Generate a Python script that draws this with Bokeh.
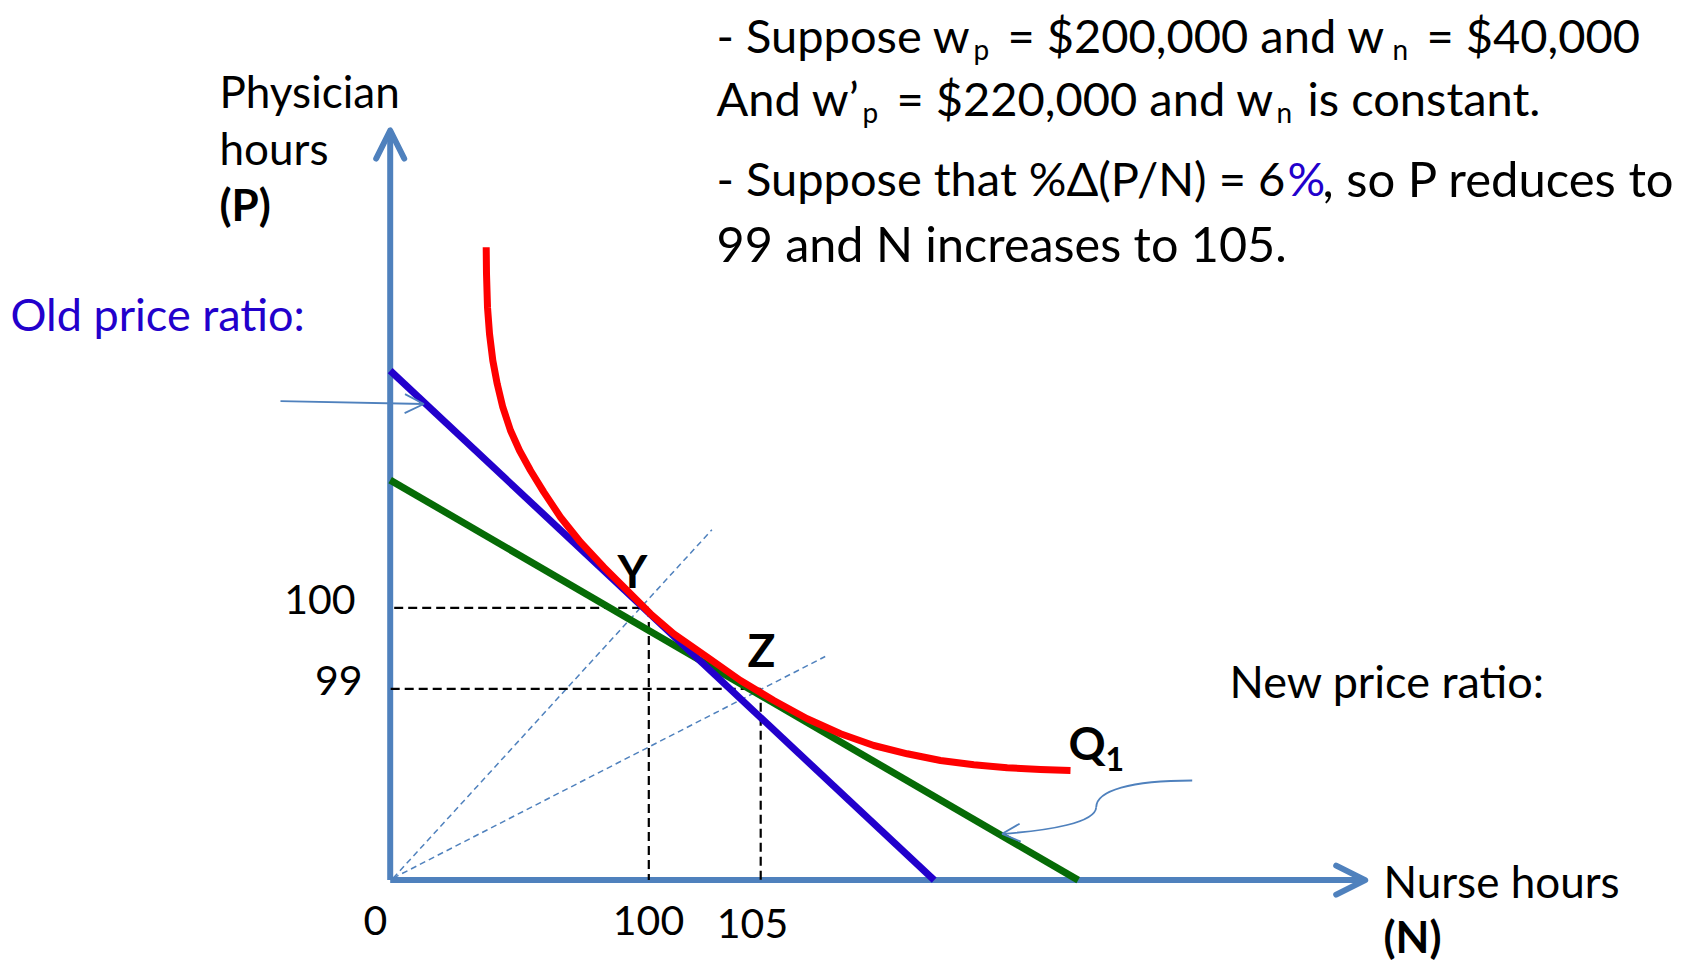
from bokeh.plotting import figure
from bokeh.models import Range1d, Arrow, OpenHead
from bokeh.core.properties import value
from bokeh.embed import file_html
from bokeh.resources import INLINE

# ---------------- data (schematic diagram units, origin at the axes corner) -------------
isoquant_N = [96.0, 96.3, 97.3, 99.3, 102.6, 107.0, 112.6, 120.3, 129.3, 140.3,
              153.6, 170.3, 190.3, 213.6, 237.0, 260.3, 283.6, 317.0, 350.3, 383.6,
              417.0, 450.3, 483.6, 517.0, 550.3, 583.6, 617.0, 650.3, 680.3]
isoquant_P = [632.9, 606.3, 572.9, 546.3, 519.6, 496.3, 472.9, 449.6, 429.6, 409.6,
              388.0, 362.9, 337.9, 312.9, 289.6, 266.3, 246.3, 222.9, 199.6, 179.6,
              161.3, 146.3, 134.6, 126.3, 119.6, 115.3, 112.3, 110.6, 109.6]

old_budget_N = [0, 544.0]
old_budget_P = [509.5, 0]
new_budget_N = [0, 688.0]
new_budget_P = [400.0, 0]

point_Y = [258.6, 272.2]      # N, P of point Y (N=100, P=100)
point_Z = [370.5, 191.3]      # N, P of point Z (N=105, P=99)
ray_Y_end = [321.7, 350.3]
ray_Z_end = [435.0, 223.6]

P_tick_pos = [272.2, 191.3]
P_tick_labels = ["100", "99"]
N_tick_pos = [0.0, 258.6, 370.5]
N_tick_labels = ["0", "100", "105"]

N_axis_max = 975.0
P_axis_max = 749.6

# ---------------- page geometry --------------------------------------------------------
W, H = 1700, 960
OX, OY = 389.7, 879.6          # page position of the origin
TSHIFT = 15                    # text baseline correction


def pg(x, y):
    return x - OX, OY - y


AX = "#4F81BD"
BLUE = "#2200CC"
GREEN = "#066B06"
RED = "#FF0000"
FONT = value("Lato")

p = figure(width=W, height=H, output_backend="svg", toolbar_location=None,
           x_range=Range1d(-OX, W - OX), y_range=Range1d(OY - H, OY),
           x_axis_location=None, y_axis_location=None, min_border=0)
p.grid.visible = False
p.outline_line_color = None
p.background_fill_color = "white"
p.border_fill_color = "white"

# axes
p.line([0, 0], [0, P_axis_max - 3], line_color=AX, line_width=6)
p.line([0, N_axis_max - 3], [0, 0], line_color=AX, line_width=6)
p.add_layout(Arrow(end=OpenHead(size=28, line_color=AX, line_width=6, line_cap="round", line_join="round"),
                   x_start=0, y_start=P_axis_max - 10, x_end=0, y_end=P_axis_max,
                   line_color=AX, line_width=6))
p.add_layout(Arrow(end=OpenHead(size=29, line_color=AX, line_width=6, line_cap="round", line_join="round"),
                   x_start=N_axis_max - 10, y_start=0, x_end=N_axis_max, y_end=0,
                   line_color=AX, line_width=6))

# rays from origin
p.line([3, ray_Y_end[0]], [2, ray_Y_end[1]], line_color=AX, line_width=1.5, line_dash="6 4")
p.line([3, ray_Z_end[0]], [2, ray_Z_end[1]], line_color=AX, line_width=1.5, line_dash="6 4")

# dashed guides
p.line([4, point_Y[0]], [point_Y[1], point_Y[1]], line_color="black", line_width=2.2, line_dash="9 5")
p.line([point_Y[0], point_Y[0]], [point_Y[1], 0], line_color="black", line_width=2.2, line_dash="9 5")
p.line([0.5, point_Z[0]], [point_Z[1], point_Z[1]], line_color="black", line_width=2.2, line_dash="9 5")
p.line([point_Z[0], point_Z[0]], [point_Z[1], 0], line_color="black", line_width=2.2, line_dash="9 5")

# budget lines and isoquant
p.line(new_budget_N, new_budget_P, line_color=GREEN, line_width=7)
p.line(old_budget_N, old_budget_P, line_color=BLUE, line_width=7)
p.line(isoquant_N, isoquant_P, line_color=RED, line_width=7, line_join="round")

# pointer arrows
ox0, oy0 = pg(280, 400.6)
ox1, oy1 = pg(423.3, 403.5)
p.add_layout(Arrow(end=OpenHead(size=19, line_color=AX, line_width=1.8),
                   x_start=ox0, y_start=oy0, x_end=ox1, y_end=oy1,
                   line_color=AX, line_width=1.8))

b1 = [pg(1191.7, 780), pg(1130, 780), pg(1096, 790), pg(1095.7, 806.7)]
b2 = [pg(1095.7, 806.7), pg(1095, 822), pg(1050, 830), pg(1001.7, 833.3)]
for b in (b1, b2):
    p.bezier(x0=[b[0][0]], y0=[b[0][1]], cx0=[b[1][0]], cy0=[b[1][1]],
             cx1=[b[2][0]], cy1=[b[2][1]], x1=[b[3][0]], y1=[b[3][1]],
             line_color=AX, line_width=1.8)
ax0, ay0 = pg(1030, 831.5)
ax1, ay1 = pg(1001.7, 833.3)
p.add_layout(Arrow(end=OpenHead(size=18, line_color=AX, line_width=1.8),
                   x_start=ax0, y_start=ay0, x_end=ax1, y_end=ay1,
                   line_color=AX, line_width=0))


def txt(s, x, y, size=44, color="black", bold=False, align="left"):
    X, Y = pg(x, y - TSHIFT)
    p.text(x=[X], y=[Y], text=[s], text_font=FONT, text_font_size=f"{size}px",
           text_color=color, text_align=align, text_baseline="alphabetic",
           text_font_style="bold" if bold else "normal")


# tick labels (placed relative to the tick values)
for pos, lab, dx in zip(P_tick_pos, P_tick_labels, [-34.7, -27.7]):
    p.text(x=[dx], y=[pos - 6.7 + TSHIFT], text=[lab], text_font=FONT, text_font_size="41px",
           text_align="right", text_baseline="alphabetic", text_color="black")
for pos, lab, dx, dy in zip(N_tick_pos, N_tick_labels, [-14.7, -0.3, -8.2], [-55.4, -55.4, -58.4]):
    p.text(x=[pos + dx], y=[dy + TSHIFT], text=[lab], text_font=FONT, text_font_size="41px",
           text_align="center", text_baseline="alphabetic", text_color="black")

# point labels
txt("Y", 617, 585, size=46, bold=True)
txt("Z", 747, 664, size=46, bold=True)
txt("Q", 1068, 757, size=46, bold=True)
txt("1", 1105, 773, size=32, bold=True)

# axis titles
txt("Physician", 219, 105)
txt("hours", 219, 162)
txt("(P)", 219, 218, bold=True)
txt("Nurse hours", 1383, 895)
txt("(N)", 1383, 950, bold=True)

txt("Old price ratio:", 10, 328, size=45, color=BLUE)
txt("New price ratio:", 1229, 695, size=45)

# top-right notes
T = 47
S = 28
txt("- Suppose w", 716, 49, size=T)
txt("p", 973, 63, size=S)
txt("= $200,000 and w", 1007, 49, size=T)
txt("n", 1392, 63, size=S)
txt("= $40,000", 1426, 49, size=T)

txt("And w\u2019", 716, 112, size=T)
txt("p", 862, 126, size=S)
txt("= $220,000 and w", 896, 112, size=T)
txt("n", 1276, 126, size=S)
txt("is constant.", 1307, 112, size=T)

txt("- Suppose that %\u0394(P/N) = 6", 716, 192, size=T)
txt("%", 1287, 192, size=T, color=BLUE)
txt(", so P reduces to", 1322, 192, size=49)
txt("99 and N increases to 105.", 716, 257, size=48.5)

open("out.html", "w").write(file_html(p, INLINE))
